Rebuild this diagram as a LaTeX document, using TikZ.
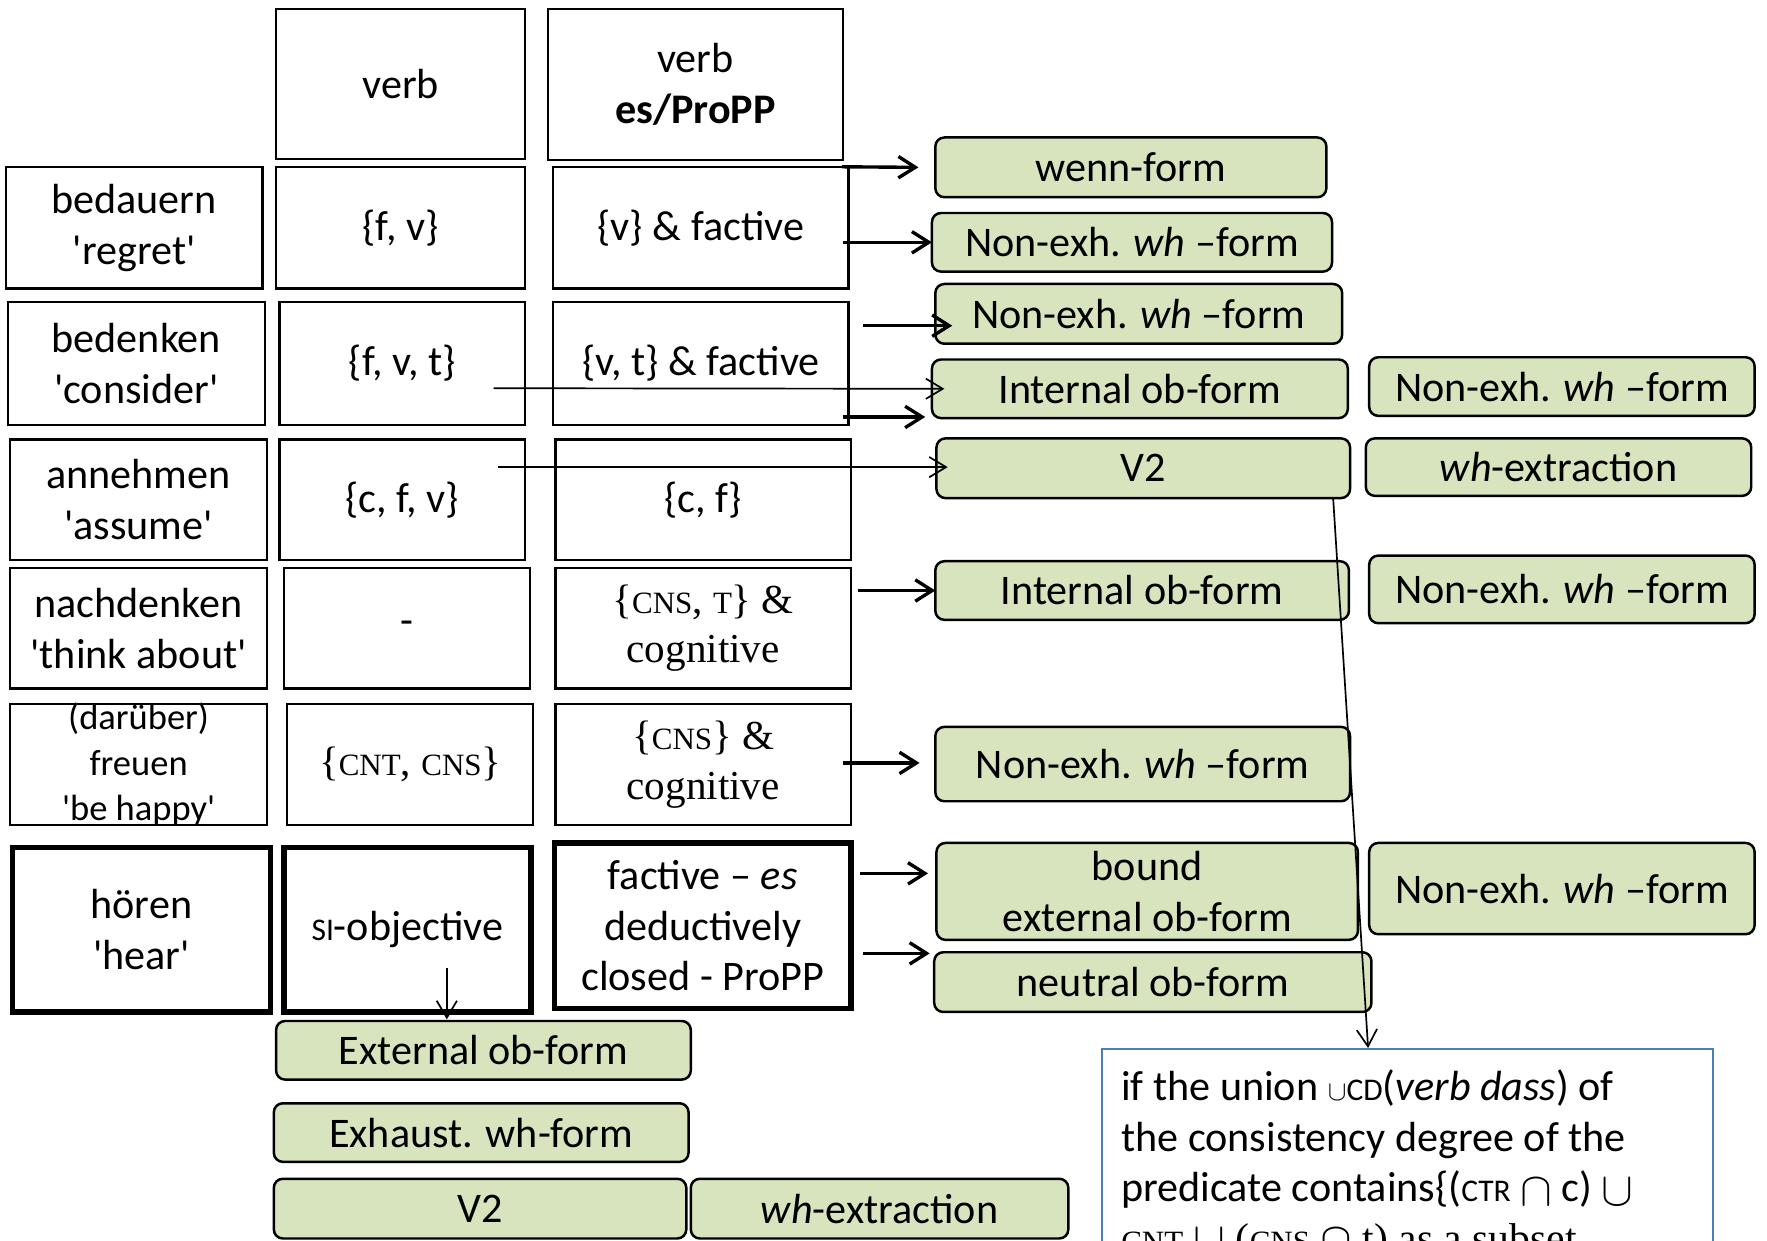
\documentclass[tikz,border=0pt]{standalone}
\usepackage{fontspec}
\setsansfont{Carlito}
\newfontfamily\tnr{Liberation Serif}
\usepackage{graphicx}
\usetikzlibrary{arrows.meta,calc}
\definecolor{gfill}{RGB}{215,228,189}
\definecolor{tbblue}{RGB}{74,126,187}
\newcommand\fsc[1]{{\fontsize{28}{28}\selectfont #1}}
\newcommand\ssc[1]{{\fontsize{27.5}{27.5}\selectfont #1}}
\newcommand\q{\textquotesingle}
\tikzset{
 txt/.style={font=\sffamily\fontsize{37.4}{45}\selectfont, align=center, inner sep=0pt, outer sep=0pt},
 cell/.style={txt, draw, line width=2pt, rectangle},
 thickcell/.style={cell, line width=5pt},
 gbox/.style={txt, draw, line width=2.2pt, fill=gfill, rounded corners=8pt},
 serifcell/.style={font=\tnr\fontsize{36.5}{44}\selectfont},
 thk/.style={line width=3pt, -{Straight Barb[length=15pt,width=19pt]}},
 thn/.style={line width=1.5pt, -{Straight Barb[length=15pt,width=18pt]}},
}
\begin{document}
\begin{tikzpicture}[x=1pt,y=-1pt]
\useasboundingbox (0,0) rectangle (1568,1101);
\clip (0,0) rectangle (1568,1101);
\fill[white] (0,0) rectangle (1568,1101);

% header
\node[cell, minimum width=221, minimum height=133] (hdr1) at (355.5,74.5) {verb};
\node[cell, minimum width=262, minimum height=134] (hdr2) at (617,75) {verb\\\textbf{es/ProPP}};

% row 1
\node[cell, minimum width=228, minimum height=108] (r1c0) at (119,202) {bedauern\\\q regret\q};
\node[cell, minimum width=221, minimum height=108] (r1c1) at (355.5,202) {\{f, v\}};
\node[cell, minimum width=262, minimum height=108] (r1c2) at (622,202) {\{v\} \& factive};
% row 2
\node[cell, minimum width=228, minimum height=109] (r2c0) at (121,322.5) {bedenken\\\q consider\q};
\node[cell, minimum width=218, minimum height=109] (r2c1) at (357,322.5) {\{f, v, t\}};
\node[cell, minimum width=262, minimum height=109] (r2c2) at (622,322.5) {\{v, t\} \& factive};
% row 3
\node[cell, minimum width=228, minimum height=107] (r3c0) at (123,443.5) {annehmen\\\q assume\q};
\node[cell, minimum width=218, minimum height=107] (r3c1) at (357,443.5) {\{c, f, v\}};
\node[cell, minimum width=262, minimum height=107] (r3c2) at (624,443.5) {\{c, f\}};
% row 4
\node[cell, minimum width=228, minimum height=107] (r4c0) at (123,557.5) {nachdenken\\\q think about\q};
\node[cell, minimum width=218, minimum height=107] (r4c1) at (361,557.5) {-};
\node[cell, serifcell, minimum width=262, minimum height=107] (r4c2) at (624,557.5) {\{\ssc{CNS}, \ssc{T}\} \&\\cognitive};
% row 5
\node[cell, minimum width=228, minimum height=107] (r5c0) at (123,678.5) {};
\node[txt, font=\sffamily\fontsize{32.4}{40}\selectfont] (r5c0t) at (r5c0.center) {(darüber)\\freuen\\\q be happy\q};
\node[cell, serifcell, minimum width=218, minimum height=107] (r5c1) at (364,678.5) {\{\ssc{CNT}, \ssc{CNS}\}};
\node[cell, serifcell, minimum width=262, minimum height=107] (r5c2) at (624,678.5) {\{\ssc{CNS}\} \&\\cognitive};
% row 6 (thick)
\node[thickcell, minimum width=229, minimum height=146] (r6c0) at (125.5,825) {hören\\\q hear\q};
\node[thickcell, minimum width=219, minimum height=146] (r6c1) at (361.5,825) {\fsc{SI}-objective};
\node[thickcell, minimum width=263, minimum height=147] (r6c2) at (623.5,821.5) {factive -- \textit{es}\\deductively\\closed - ProPP};

% green boxes
\node[gbox, minimum width=347, minimum height=53] (g1) at (1003.5,148.5) {wenn-form};
\node[gbox, minimum width=355, minimum height=52] (g2) at (1004.5,215) {Non-exh. \textit{wh} --form};
\node[gbox, minimum width=361, minimum height=53] (g3) at (1010.5,278.5) {Non-exh. \textit{wh} --form};
\node[gbox, minimum width=369, minimum height=52] (g4) at (1011.5,345) {Internal ob-form};
\node[gbox, minimum width=342, minimum height=52] (g5) at (1386,343) {Non-exh. \textit{wh} --form};
\node[gbox, minimum width=367, minimum height=53] (g6) at (1014.5,415.5) {V2};
\node[gbox, minimum width=342, minimum height=51] (g7) at (1383,414.5) {\textit{wh}-extraction};
\node[gbox, minimum width=367, minimum height=52] (g8) at (1013.5,524) {Internal ob-form};
\node[gbox, minimum width=342, minimum height=60] (g9) at (1386,523) {Non-exh. \textit{wh} --form};
\node[gbox, minimum width=368, minimum height=66] (g10) at (1014,678) {Non-exh. \textit{wh} --form};
\node[gbox, minimum width=374, minimum height=86] (g11) at (1018,791) {bound\\external ob-form};
\node[gbox, minimum width=342, minimum height=81] (g12) at (1386,788.5) {Non-exh. \textit{wh} --form};
\node[gbox, minimum width=388, minimum height=53] (g13) at (1023,871.5) {neutral ob-form};
\node[gbox, minimum width=368, minimum height=52] (g14) at (429,932) {External ob-form};
\node[gbox, minimum width=368, minimum height=52] (g15) at (427,1005) {Exhaust. wh-form};
\node[gbox, minimum width=366, minimum height=53] (g16) at (426,1072.5) {V2};
\node[gbox, minimum width=335, minimum height=53] (g17) at (780.5,1072.5) {\textit{wh}-extraction};

% text box
\node[draw=tbblue, line width=2pt, minimum width=542, minimum height=400, inner sep=0pt] (tb) at (1249,1131) {};
\node[txt, align=left, anchor=north west] (tbt) at ($(tb.north west)+(18,19)$)
 {if the union $\cup$\fsc{CD}(\textit{verb dass}) of\\
  the consistency degree of the\\
  predicate contains\{(\fsc{CTR} \raisebox{-3pt}{\scalebox{1.7}{$\cap$}} c) \raisebox{-3pt}{\scalebox{1.7}{$\cup$}}\\
  {\tnr\fontsize{37}{45}\selectfont \ssc{CNT} \raisebox{-3pt}{\scalebox{1.7}{$\cup$}} (\ssc{CNS} \raisebox{-3pt}{\scalebox{1.7}{$\cap$}} t) as a subset}};

% connectors
\draw[thk] ($(r1c2.north east)+(-6,0)$) -- ($(g1.west)+(-15,0)$);
\draw[thk] ($(r1c2.east |- g2.west)+(-5,0)$) -- (g2.west);
\draw[thk] ($(r2c2.north east)+(13,21)$) -- ($(g3.south west)+(15,-16)$);
\draw[thn] ($(r2c1.center)+(81,22)$) -- ($(g4.west)+(11,0)$);
\draw[thk] ($(r2c2.south east)+(-5,-7)$) -- ($(g4.south west)+(-6,-1)$);
\draw[thn] ($(r3c1.center)+(85,-29)$) -- ($(g6.west)+(10,-1)$);
\draw[thk] ($(r4c2.north east)+(6,20)$) -- (g8.west);
\draw[thk] ($(r5c2.east)+(-7,-1.5)$) -- ($(g10.west)+(-14,-1)$);
\draw[thk] ($(r6c2.north east)+(8,27)$) -- ($(g11.west)+(-7.5,-16)$);
\draw[thk] ($(r6c2.east)+(11,24.5)$) -- ($(g13.west)+(-4,-25.5)$);
\draw[thn] ($(r6c1.south)+(35,-39)$) -- ($(g14.north)+(-32.5,-1.5)$);
\draw[thn] ($(g6.south east)+(-15,0)$) -- ($(tb.north west)+(237,0)$);
\end{tikzpicture}
\end{document}
